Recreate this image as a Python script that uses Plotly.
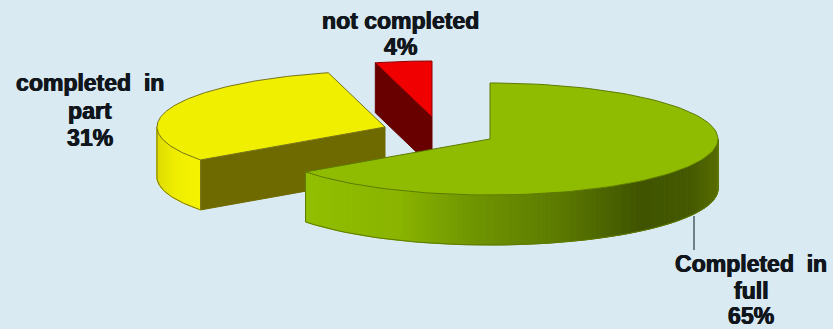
import numpy as np
import plotly.graph_objects as go

# Slice shares, clockwise from twelve o'clock
slice_names = ["Completed in full", "completed in part", "not completed"]
slice_values = [65, 31, 4]

# Label lines, one list per slice
label_lines = [["Completed\u00a0 in", "full", "65%"], ["completed\u00a0 in", "part", "31%"], ["not completed", "4%"]]

WIDTH, HEIGHT = 833, 329
BACKGROUND = "#d9eaf3"
RX, RY, DEPTH = 228, 56, 50

# Exploded centre of each slice in the page frame
centres = [(490, 139), (385, 127), (432, 117)]
top_colours = ["#8fbc00", "#f0ef00", "#f00000"]
edge_colours = ["#5f7a00", "#77741a", "#8a0000"]
radial_colours = [None, "#6f6a00", "#680000"]

# Shading of the outer wall, keyed by page x
wall_shades = [
    ([303, 400, 470, 560, 640, 690, 718],
     [(146, 192, 0), (138, 180, 0), (112, 150, 0), (92, 122, 0), (64, 84, 0), (70, 90, 0), (88, 110, 0)]),
    ([158, 175, 200], [(224, 222, 0), (240, 238, 0), (246, 244, 0)]),
    None,
]

fig = go.Figure()


def polygon(xs, ys, fill, line=None, width=1):
    fig.add_trace(go.Scatter(
        x=xs, y=ys, mode="lines", fill="toself", fillcolor=fill,
        line=dict(color=line or fill, width=width), hoverinfo="skip", showlegend=False,
    ))


def rim(centre, angle_deg):
    a = np.radians(angle_deg)
    return centre[0] + RX * np.sin(a), centre[1] - RY * np.cos(a)


bounds = np.cumsum([0] + slice_values) / sum(slice_values) * 360

# Painted back to front: red, yellow, then green
for i in [2, 1, 0]:
    start, end, c = bounds[i], bounds[i + 1], centres[i]
    # Radial wall that faces the viewer
    if radial_colours[i]:
        px, py = rim(c, start)
        polygon([px, c[0], c[0], px, px], [py, c[1], c[1] + DEPTH, py + DEPTH, py], radial_colours[i])
    # Outer curved wall, only the part on the near side
    lo, hi = max(start, 90), min(end, 270)
    if wall_shades[i] and hi > lo:
        stops_x, stops_rgb = wall_shades[i]
        stops_rgb = np.array(stops_rgb, dtype=float)
        grid = np.linspace(lo, hi, 130)
        for a0, a1 in zip(grid[:-1], grid[1:]):
            x0, y0 = rim(c, a0)
            x1, y1 = rim(c, a1)
            rgb = [int(np.interp((x0 + x1) / 2, stops_x, stops_rgb[:, k])) for k in range(3)]
            colour = f"rgb({rgb[0]},{rgb[1]},{rgb[2]})"
            polygon([x0, x1, x1, x0, x0], [y0, y1, y1 + DEPTH, y0 + DEPTH, y0], colour)
        arc = np.linspace(lo, hi, 80)
        bx, by = zip(*[rim(c, a) for a in arc])
        ex = [bx[0], *bx, bx[-1]]
        ey = [by[0], *[v + DEPTH for v in by], by[-1]]
        fig.add_trace(go.Scatter(x=ex, y=ey, mode="lines", line=dict(color=edge_colours[i], width=1),
                                 hoverinfo="skip", showlegend=False))
    # Top face
    arc = np.linspace(start, end, 120)
    tx, ty = zip(*[rim(c, a) for a in arc])
    polygon([c[0], *tx, c[0]], [c[1], *ty, c[1]], top_colours[i], edge_colours[i])

# Leader line from the green slice to its label
leader_x = [694, 694]
leader_y = [216, 250]
fig.add_trace(go.Scatter(x=leader_x, y=leader_y, mode="lines", line=dict(color="#4d5c66", width=1.5),
                         hoverinfo="skip", showlegend=False))

label_x = [751, 90, 400]
label_y = [[264, 291, 316], [83, 111, 138], [21, 47]]
for lines, x, ys in zip(label_lines, label_x, label_y):
    for text, y in zip(lines, ys):
        fig.add_annotation(
            x=x, y=y, text=f"<b>{text}</b>", showarrow=False, xanchor="center", yanchor="middle",
            font=dict(family="Liberation Sans", size=23, color="#10161c",
                      shadow="0.6px 0 0 #10161c, -0.4px 0 0 #10161c"),
        )

fig.update_layout(
    width=WIDTH, height=HEIGHT, margin=dict(l=0, r=0, t=0, b=0),
    paper_bgcolor=BACKGROUND, plot_bgcolor=BACKGROUND, showlegend=False,
    xaxis=dict(range=[0, WIDTH], visible=False, fixedrange=True),
    yaxis=dict(range=[HEIGHT, 0], visible=False, fixedrange=True),
)
fig.write_html("out.html", config={"displayModeBar": False})
